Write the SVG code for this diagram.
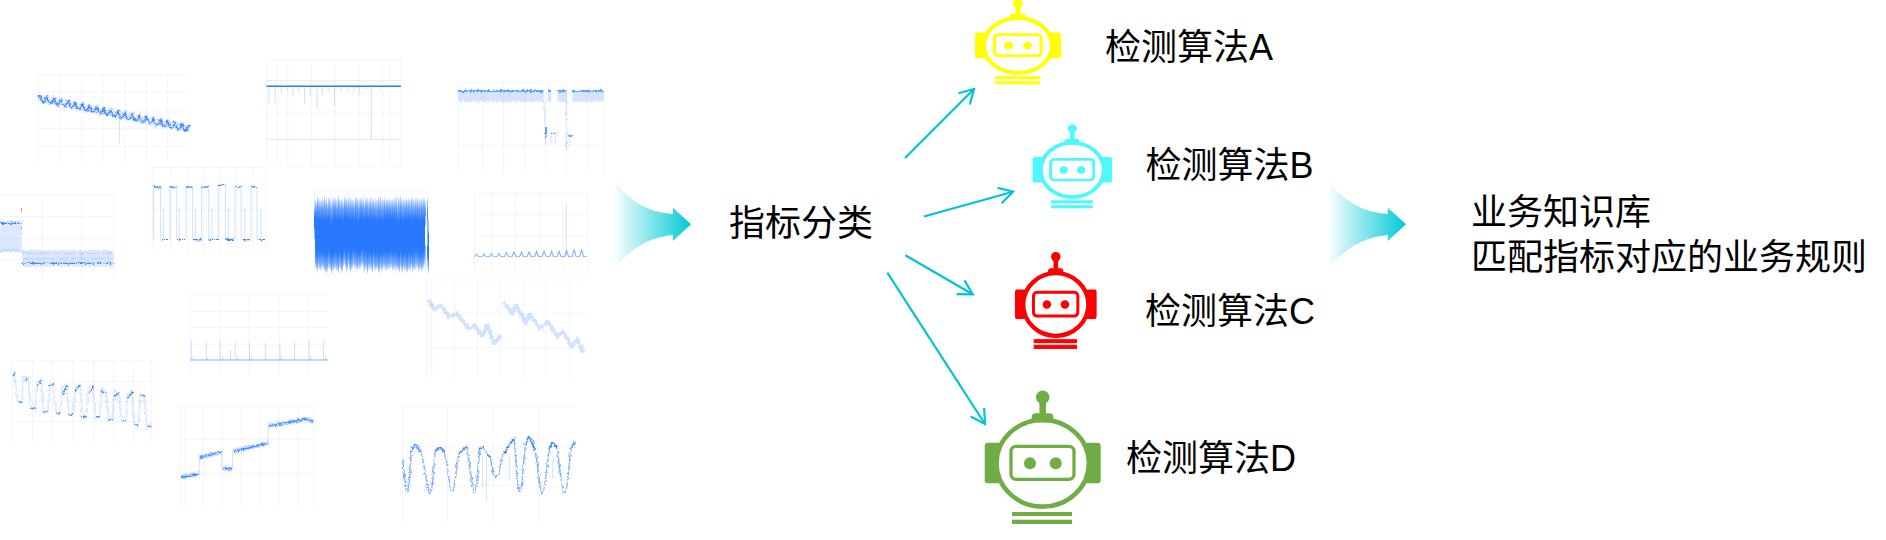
<svg xmlns="http://www.w3.org/2000/svg" width="1886" height="540" viewBox="0 0 1886 540">
<style>
text{font-family:"Liberation Sans","Noto Sans CJK SC",sans-serif;font-size:36px;fill:#000}
.c{fill:none;stroke:#00c4d4;stroke-width:2.2;marker-end:url(#ah)}
.gr{fill:none;stroke:#f1f6fc;stroke-width:2.700}
.gy{fill:none;stroke:#e4e6ea;stroke-width:2.700}
.l{fill:none;stroke:#2979ff;stroke-opacity:.2;stroke-width:12;stroke-linejoin:round}
.m{fill:none;stroke:#2979ff;stroke-opacity:.25;stroke-width:2.500}
.d{fill:none;stroke:#2979ff;stroke-opacity:.85;stroke-width:4;stroke-linejoin:round}
.ring{stroke:currentColor;stroke-width:var(--r,4.6)}
.face{stroke:currentColor;stroke-width:var(--f,3.3)}
.bar{stroke:currentColor;stroke-width:var(--b,0)}
</style>
<defs>
<linearGradient id="g"><stop offset="0" stop-color="#00c9d6" stop-opacity="0"/><stop offset="1" stop-color="#00c9d6"/></linearGradient>
<linearGradient id="band" x1="0" y1="0" x2="0" y2="1"><stop offset="0" stop-color="#2979ff" stop-opacity=".15"/><stop offset=".14" stop-color="#2979ff" stop-opacity=".7"/><stop offset=".3" stop-color="#2979ff"/><stop offset=".75" stop-color="#2979ff"/><stop offset=".92" stop-color="#2979ff" stop-opacity=".6"/><stop offset="1" stop-color="#2979ff" stop-opacity=".12"/></linearGradient>
<marker id="ah" markerUnits="userSpaceOnUse" markerWidth="24" markerHeight="24" refX="17" refY="12" orient="auto"><path d="M3 4 L17 12 L3 20" fill="none" stroke="#00c4d4" stroke-width="2.2"/></marker>
<filter id="n" x="-5%" y="-10%" width="110%" height="120%" color-interpolation-filters="sRGB"><feTurbulence type="fractalNoise" baseFrequency=".4" numOctaves="2" seed="4"/><feDisplacementMap in="SourceGraphic" scale="4" xChannelSelector="R" yChannelSelector="G"/><feGaussianBlur stdDeviation=".35"/></filter>
<filter id="v" x="-1%" y="-10%" width="102%" height="120%" color-interpolation-filters="sRGB"><feTurbulence type="fractalNoise" baseFrequency=".7 .01" numOctaves="2" seed="9"/><feDisplacementMap in="SourceGraphic" scale="16" xChannelSelector="A" yChannelSelector="G"/></filter>
<g id="robot">
<rect x="-58" y="-20.6" width="16" height="40.6" rx="3"/><rect x="42" y="-20.6" width="16" height="40.6" rx="3"/>
<ellipse class="ring" rx="46.2" ry="43.3" fill="#fff"/>
<rect class="face" x="-31.7" y="-17" width="63" height="33" rx="5" fill="none"/>
<circle cx="-12.7" r="6"/><circle cx="13" r="6"/>
<rect x="-3.3" y="-66" width="6.6" height="22"/><circle cy="-66" r="6.7"/><rect x="-11" y="-50" width="21.6" height="9" rx="4"/>
<rect class="bar" x="-30.7" y="48.7" width="60" height="4"/><rect class="bar" x="-30.7" y="56.4" width="60" height="4.3"/>
</g>
</defs>
<rect width="1886" height="540" fill="#fff"/>

<g id="chart-1"><g transform="translate(0,40) scale(.3954,.3333)"><path class="gr" d="M97 105H474M97 157H474M97 211H474M97 265H474M97 320H474M97 105V370M152 105V370M206 105V370M260 105V370M316 105V370M370 105V370M424 105V370"/></g>
<g filter="url(#n)"><g transform="translate(0,40) scale(.3954,.3333)"><path class="l" stroke-width="11" d="M100 165q9 40 18 4.3q9 40 18 4.3q9 40 18 4.3q9 40 18 4.3q9 40 18 4.3q9 40 18 4.3q9 40 18 4.3q9 40 18 4.3q9 40 18 4.3q9 40 18 4.3q9 40 18 4.3q9 40 18 4.3q9 40 18 4.3q9 40 18 4.3q9 40 18 4.3q9 40 18 4.3q9 40 18 4.3q9 40 18 4.3q9 40 18 4.3q9 40 18 4.3q9 40 18 4.3"/><path class="d" d="M100 165q9 40 18 4.3q9 40 18 4.3q9 40 18 4.3q9 40 18 4.3q9 40 18 4.3q9 40 18 4.3q9 40 18 4.3q9 40 18 4.3q9 40 18 4.3q9 40 18 4.3q9 40 18 4.3q9 40 18 4.3q9 40 18 4.3q9 40 18 4.3q9 40 18 4.3q9 40 18 4.3q9 40 18 4.3q9 40 18 4.3q9 40 18 4.3q9 40 18 4.3q9 40 18 4.3"/></g></g>
<g transform="translate(0,40) scale(.3954,.3333)"><path class="m" d="M302 232V310"/></g></g>

<g id="chart-2" transform="translate(0,40) scale(.3954,.3333)"><path class="gr" d="M674 60H1014M674 220H1014M674 378H1014M674 60V378M702 60V378M728 60V378M788 60V378M848 60V378M908 60V378M968 60V378M986 60V378M1014 60V378"/><path class="gy" d="M674 122H1014M674 298H1014"/><path class="m" stroke-width="3.500" d="M680 139V190M696 139V188M712 139V160M726 139V155M741 139V165M755 139V155M770 139V193M785 139V165M802 139V210M815 139V165M830 139V155M846 139V198M862 139V156M880 139V156M895 139V156M908 139V165M925 139V150M939 139V298M960 139V148"/><path fill="none" stroke="#2979ff" stroke-width="4.500" d="M674 139H1014"/></g>

<g id="chart-3"><g transform="translate(0,40) scale(.3954,.3333)"><path class="gr" d="M1159 127H1527M1159 316H1527M1159 127V400M1220 127V400M1274 127V400M1328 127V400M1380 127V400M1432 127V400M1485 127V400M1527 127V400"/></g>
<g filter="url(#n)"><g transform="translate(0,40) scale(.3954,.3333)"><path fill="#2979ff" fill-opacity=".2" d="M1159 150H1375V185H1159ZM1386 150H1394V185H1386ZM1410 150H1432V185H1410ZM1448 150H1527V185H1448Z"/><path class="m" stroke-width="6" d="M1375 180L1381 315M1433 150V330M1395 280V312M1405 275V312M1440 280V320"/><path class="d" stroke-opacity=".7" stroke-width="5" d="M1159 153H1375M1386 153H1394M1410 153H1432M1448 153H1527M1381 260V290M1394 280H1408M1436 288H1447"/></g></g></g>

<g id="chart-4"><g transform="translate(0,40) scale(.3954,.3333)"><path class="gr" d="M0 465H287M0 530H287M0 595H287M0 660H287M108 465V720M207 465V720M287 465V720"/></g>
<g filter="url(#n)"><g transform="translate(0,40) scale(.3954,.3333)"><path fill="#2979ff" fill-opacity=".17" d="M0 542H55V636H0ZM57 630H287V680H57Z"/><path class="d" stroke-opacity=".65" stroke-width="7" d="M0 550H55M57 670H287"/><path class="m" stroke-width="4" d="M0 630H55M57 640H287M57 655H287"/></g></g>
<path d="M21.500 208V212M21.500 226V230" stroke="#f5a0a0" stroke-width="1"/></g>

<g id="chart-5"><g transform="translate(0,40) scale(.3954,.3333)"><path class="gr" d="M385 382H672M385 510H672M385 382V635M432 382V635M475 382V635M515 382V635M555 382V635M598 382V635M640 382V635M672 382V635"/></g>
<g filter="url(#n)"><g transform="translate(0,40) scale(.3954,.3333)"><path class="d" stroke-width="5" d="M388 441H406M430 441H447M470 441H487M510 441H528M552 436H570M594 441H610M635 441H650M407 599H428M448 598H468M488 599H510M530 598H552M572 598H592M612 599H634M652 599H672"/></g></g>
<g transform="translate(0,40) scale(.3954,.3333)"><path class="m" stroke-width="2" stroke-opacity=".12" d="M388 441V599M406 441V599M430 441V599M447 441V599M470 441V599M487 441V599M510 441V599M528 441V599M552 436V599M570 441V599M594 441V599M610 441V599M635 441V599M650 441V599"/><path class="m" stroke-width="4.500" d="M413 599V505M453 599V505M494 599V505M536 599V505M578 599V505M619 599V505M660 599V510"/></g></g>

<g id="chart-6"><g transform="translate(0,40) scale(.3954,.3333)"><path class="gr" d="M795 450H1081M795 450V705M838 450V705M880 450V705M920 450V705M963 450V705M1003 450V705M1045 450V705M1081 450V705"/></g>
<rect x="314.500" y="199" width="113" height="71" fill="url(#band)" filter="url(#v)"/></g>

<g id="chart-7"><g transform="translate(0,40) scale(.3954,.3333)"><path class="gr" d="M1200 460H1485M1200 522H1485M1200 588H1485M1200 460V705M1243 460V705M1303 460V705M1364 460V705M1423 460V705M1485 460V705"/><path class="m" stroke-width="4.500" d="M1432 490V650"/><path fill="none" stroke="#2979ff" stroke-opacity=".6" stroke-width="2.700" d="M1200 650l5-8l5 8h9l5-8l5 8h9l5-9l5 9h9l5-10l5 10h9l5-12l5 12h9l5-14l5 14h9l5-14l5 14h9l5-14l5 14h9l5-16l5 16h9l5-16l5 16h9l5-16l5 16h9l5-16l5 16h9l5-18l5 18h9l5-22l5 22h9l5-22l5 22h9"/></g></g>

<g id="chart-8" transform="translate(0,270) scale(.3954,.3333)"><path class="gr" d="M482 72H830M482 124H830M482 172H830M482 226H830M482 72V318M556 72V318M630 72V318M706 72V318M780 72V318"/><path class="m" stroke-width="3" stroke-opacity=".2" d="M484 270V213M522 270V216M557 270V216M583 270V240M595 270V216M631 270V218M671 270V218M708 270V218M745 270V216M782 270V216M818 270V213M489 270V258M525 270V262M563 270V258M600 270V258M636 270V260M712 270V258M786 270V260M824 270V258"/><path fill="none" stroke="#2979ff" stroke-opacity=".4" stroke-width="4" d="M482 270H830"/></g>

<g id="chart-9"><g transform="translate(0,270) scale(.3954,.3333)"><path class="gr" d="M1080 30H1482M1080 130H1482M1080 232H1482M1080 30V322M1092 30V322M1149 30V322M1207 30V322M1265 30V322M1324 30V322M1381 30V322M1440 30V322"/></g>
<g filter="url(#n)"><g transform="translate(0,270) scale(.3954,.3333)"><path fill="none" stroke="#2979ff" stroke-opacity=".22" stroke-width="10" stroke-linejoin="round" d="M1082 88L1100 120L1115 105L1135 140L1155 130L1185 175L1200 165L1220 200L1232 165L1250 220L1268 195M1273 95L1295 130L1305 105L1330 160L1340 135L1365 175L1385 155L1410 200L1425 185L1445 230L1460 205L1477 250"/></g></g></g>

<g id="chart-10"><g transform="translate(0,270) scale(.3954,.3333)"><path class="gr" d="M31 273H384M31 334H384M31 394H384M31 454H384M31 273V515M82 273V515M133 273V515M184 273V515M237 273V515M287 273V515M337 273V515M384 273V515"/></g>
<g filter="url(#n)"><g transform="translate(0,270) scale(.3954,.3333)"><path fill="none" stroke="#2979ff" stroke-opacity=".16" stroke-width="5" stroke-linejoin="round" d="M35 310L45 395L55 395L60 320L70 325L78 415L88 420L95 335L105 330L110 425L120 430L127 340L135 345L142 430L152 430L158 350L168 345L175 435L185 430L192 350L203 345L208 440L218 445L225 350L235 350L242 445L252 440L258 355L268 365L275 450L285 445L290 360L300 370L308 455L318 455L323 370L333 365L340 470L350 460L355 375L365 375L372 475L383 460"/><path class="d" stroke-width="6" d="M33 318L40 305M45 397H57M62 332L72 322M78 415H88M94 348L104 330M110 425H120M125 348L137 340M142 430H152M158 372L170 345M175 435H185M190 365L203 345M208 440H218M226 370L236 350M243 440H252M257 365L270 370M275 450H285M290 380L302 365M308 452H318M322 385L335 365M340 465H350M355 375L367 380M372 468H383"/></g></g></g>

<g id="chart-11"><g transform="translate(0,270) scale(.3954,.3333)"><path class="gr" d="M456 408H793M456 508H793M456 610H793M456 408V708M466 408V708M514 408V708M562 408V708M610 408V708M658 408V708M706 408V708M754 408V708M793 408V708"/></g>
<g filter="url(#n)"><g transform="translate(0,270) scale(.3954,.3333)"><path fill="none" stroke="#2979ff" stroke-opacity=".3" stroke-width="13" d="M458 622L503 612M505 562L560 546M563 596H587M590 544L677 520M680 468L775 447L793 456"/><path class="d" stroke-opacity=".75" stroke-width="6" d="M458 622L503 612M505 562L560 546M563 596H587M590 544L677 520M680 468L775 447L793 456"/></g></g>
<path transform="translate(0,270) scale(.3954,.3333)" class="m" stroke-opacity=".15" d="M504 612V562M561 546V596M588 596V544M678 520V468"/></g>

<g id="chart-12"><g transform="translate(0,270) scale(.3954,.3333)"><path class="gr" d="M1018 408H1457M1018 530H1457M1018 646H1457M1018 408V760M1132 408V760M1247 408V760M1362 408V760"/><path class="m" d="M1230 560V695M1220 560V650M1288 560V635M1398 560V625"/></g>
<g filter="url(#n)"><g transform="translate(0,270) scale(.3954,.3333)"><path fill="none" stroke="#2979ff" stroke-opacity=".6" stroke-width="3.500" stroke-linejoin="round" d="M1018 570C1024 620 1026 665 1030 665C1038 665 1036 530 1045 525C1055 520 1058 530 1065 545C1075 590 1080 668 1087 668C1098 668 1095 540 1105 535C1115 530 1118 535 1125 545C1132 590 1138 665 1143 665C1153 665 1155 545 1165 545C1172 540 1175 530 1180 530C1190 590 1195 670 1200 670C1208 670 1208 535 1218 530C1225 530 1232 560 1240 560C1246 600 1245 622 1256 620C1265 620 1265 570 1272 555C1285 535 1290 510 1300 505C1305 560 1308 665 1315 665C1322 665 1325 505 1335 500C1345 495 1350 530 1355 550C1362 600 1365 670 1372 670C1380 670 1385 525 1395 520C1402 515 1405 530 1410 535C1415 600 1422 668 1428 668C1438 668 1440 520 1448 520L1457 515"/><path class="d" stroke-width="6" d="M1040 545L1050 522L1062 545M1100 545L1112 535L1125 548M1158 552L1172 540L1183 530M1212 540L1222 530M1232 555L1240 560M1275 550L1300 505M1328 525L1338 500L1352 540M1388 535L1398 518L1410 535M1445 535L1455 518"/></g></g></g>

<g id="connectors">
<path class="c" d="M905 158L974 89"/>
<path class="c" d="M924 216.500L1013 191.700"/>
<path class="c" d="M905.300 255.300L972.700 294.300"/>
<path class="c" d="M887.300 272.700L985 424"/>
<path fill="url(#g)" d="M613 180C630 200 645 212 673 214V207.700L691 224.300L673 241V235C645 238 630 250 613 270Z"/>
<path fill="url(#g)" d="M1327 180C1344 200 1360 212 1387.700 214V207.700L1406 224.300L1387.700 241V235C1360 238 1344 250 1327 270Z"/>
</g>

<g id="classify"><text x="729" y="236">指标分类</text></g>
<g id="algo-a"><use href="#robot" transform="translate(1018,45.500) scale(.74,.635)" fill="#ffff00" color="#ffff00" style="--r:6;--f:4.200;--b:.8"/><text x="1105" y="60">检测算法A</text></g>
<g id="algo-b"><use href="#robot" transform="translate(1072.300,170) scale(.684,.627)" fill="#4ff8ff" color="#4ff8ff" style="--r:6;--f:4.200;--b:.8"/><text x="1145.500" y="178">检测算法B</text></g>
<g id="algo-c"><use href="#robot" transform="translate(1055.800,304.500) scale(.704,.723)" fill="#ff0000" color="#ff0000" style="--r:6;--f:4.200;--b:1.500"/><text x="1145" y="324">检测算法C</text></g>
<g id="algo-d"><use href="#robot" transform="translate(1042.700,463.300)" fill="#70ad47" color="#70ad47"/><text x="1126" y="471">检测算法D</text></g>
<g id="knowledge"><text x="1471" y="225">业务知识库</text><text x="1471" y="270">匹配指标对应的业务规则</text></g>
</svg>
